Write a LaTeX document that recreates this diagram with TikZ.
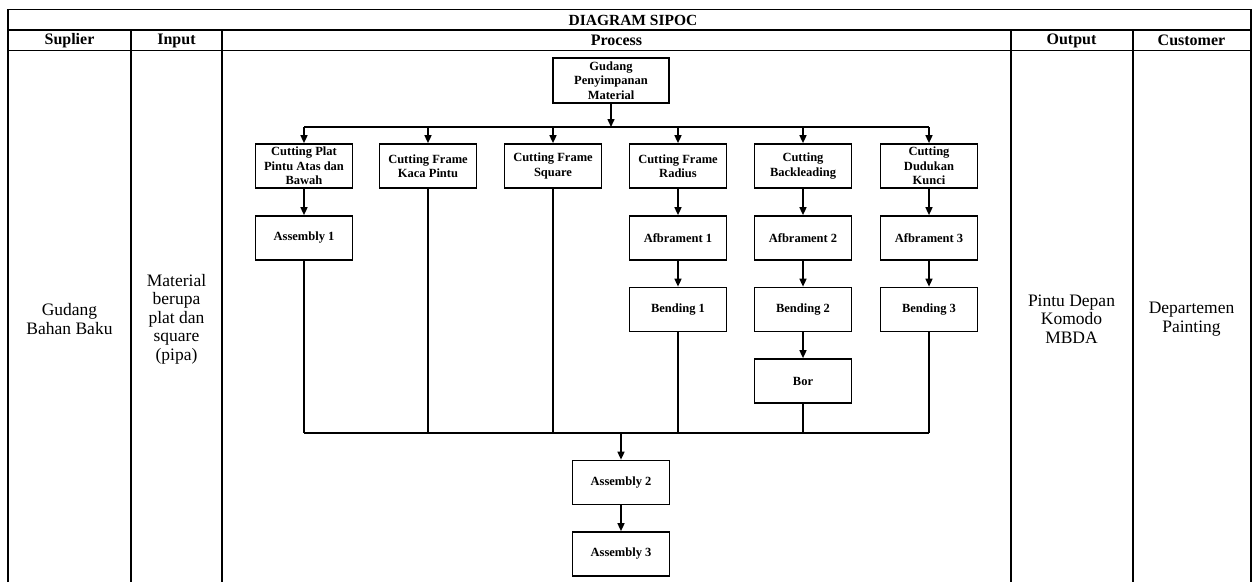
\documentclass[tikz,border=0pt]{standalone}
\usepackage{fontspec}
\setmainfont{Liberation Serif}
\usetikzlibrary{arrows.meta}
\begin{document}
\begin{tikzpicture}[x=1pt,y=-1pt,
  tline/.style={line width=1.2pt},
  hdr/.style={font=\bfseries\fontsize{16}{18}\selectfont, inner sep=0pt},
  cell/.style={font=\fontsize{17.5}{18.5}\selectfont, align=center, inner sep=0pt},
  pbox/.style={draw, line width=1.7pt, minimum width=97pt, minimum height=44pt, inner sep=0pt,
    align=center, font=\bfseries\fontsize{12.5}{14.3}\selectfont},
  conn/.style={line width=1.5pt},
  arr/.style={line width=1.5pt, -{Triangle[width=7pt,length=8pt]}}
]
\useasboundingbox (0,0) rectangle (1259,582);
% table frame
\draw[tline] (8,582) -- (8,9.5) -- (1251,9.5) -- (1251,582);
\draw[tline] (8,30) -- (1251,30);
\draw[tline] (8,50.5) -- (1251,50.5);
\foreach \xx in {131,222,1011,1133} \draw[tline] (\xx,30) -- (\xx,582);
% headers
\node[hdr, font=\bfseries\fontsize{15.5}{17}\selectfont] (title) at (633,20) {DIAGRAM SIPOC};
\node[hdr] (hs) at (69.5,40.5) {Suplier};
\node[hdr] (hi) at (176.5,40.5) {Input};
\node[hdr] (hp) at (616.5,40.5) {Process};
\node[hdr] (ho) at (1071.5,40.5) {Output};
\node[hdr] (hc) at (1191.5,40.5) {Customer};
% cells
\node[cell] (sup) at (69.5,319) {Gudang\\Bahan Baku};
\node[cell] (inp) at (176.5,319) {Material\\berupa\\plat dan\\square\\(pipa)};
\node[cell] (out) at (1071.5,319) {Pintu Depan\\Komodo\\MBDA};
\node[cell] (cus) at (1191.5,319) {Departemen\\Painting};
% process boxes
\node[pbox, minimum width=116pt, minimum height=45pt] (g) at (611,80.5) {Gudang\\Penyimpanan\\Material};
\node[pbox] (c1) at (304,166) {Cutting Plat\\Pintu Atas dan\\Bawah};
\node[pbox] (c2) at (428,166) {Cutting Frame\\Kaca Pintu};
\node[pbox] (c3) at (553,166) {Cutting Frame\\Square};
\node[pbox] (c4) at (678,166) {Cutting Frame\\Radius};
\node[pbox] (c5) at (803,166) {Cutting\\Backleading};
\node[pbox] (c6) at (929,166) {Cutting\\Dudukan\\Kunci};
\node[pbox] (a1) at (304,238) {Assembly 1};
\node[pbox] (f1) at (678,238) {Afbrament 1};
\node[pbox] (f2) at (803,238) {Afbrament 2};
\node[pbox] (f3) at (929,238) {Afbrament 3};
\node[pbox] (b1) at (678,309.5) {Bending 1};
\node[pbox] (b2) at (803,309.5) {Bending 2};
\node[pbox] (b3) at (929,309.5) {Bending 3};
\node[pbox] (bor) at (803,381) {Bor};
\node[pbox] (a2) at (621,482.5) {Assembly 2};
\node[pbox] (a3) at (621,554) {Assembly 3};
% buses
\coordinate (bus1) at (611,127);
\coordinate (bus2) at (621,433);
\draw[arr] (g) -- (bus1);
\draw[conn] (c1 |- bus1) -- (c6 |- bus1);
\foreach \n in {c1,c2,c3,c4,c5,c6} \draw[arr] (\n |- bus1) -- (\n);
\draw[arr] (c1) -- (a1);
\draw[arr] (c4) -- (f1);
\draw[arr] (c5) -- (f2);
\draw[arr] (c6) -- (f3);
\draw[arr] (f1) -- (b1);
\draw[arr] (f2) -- (b2);
\draw[arr] (f3) -- (b3);
\draw[arr] (b2) -- (bor);
\foreach \n in {a1,c2,c3,b1,bor,b3} \draw[conn] (\n) -- (\n |- bus2);
\draw[conn] (a1 |- bus2) -- (b3 |- bus2);
\draw[arr] (bus2) -- (a2);
\draw[arr] (a2) -- (a3);
\end{tikzpicture}
\end{document}
